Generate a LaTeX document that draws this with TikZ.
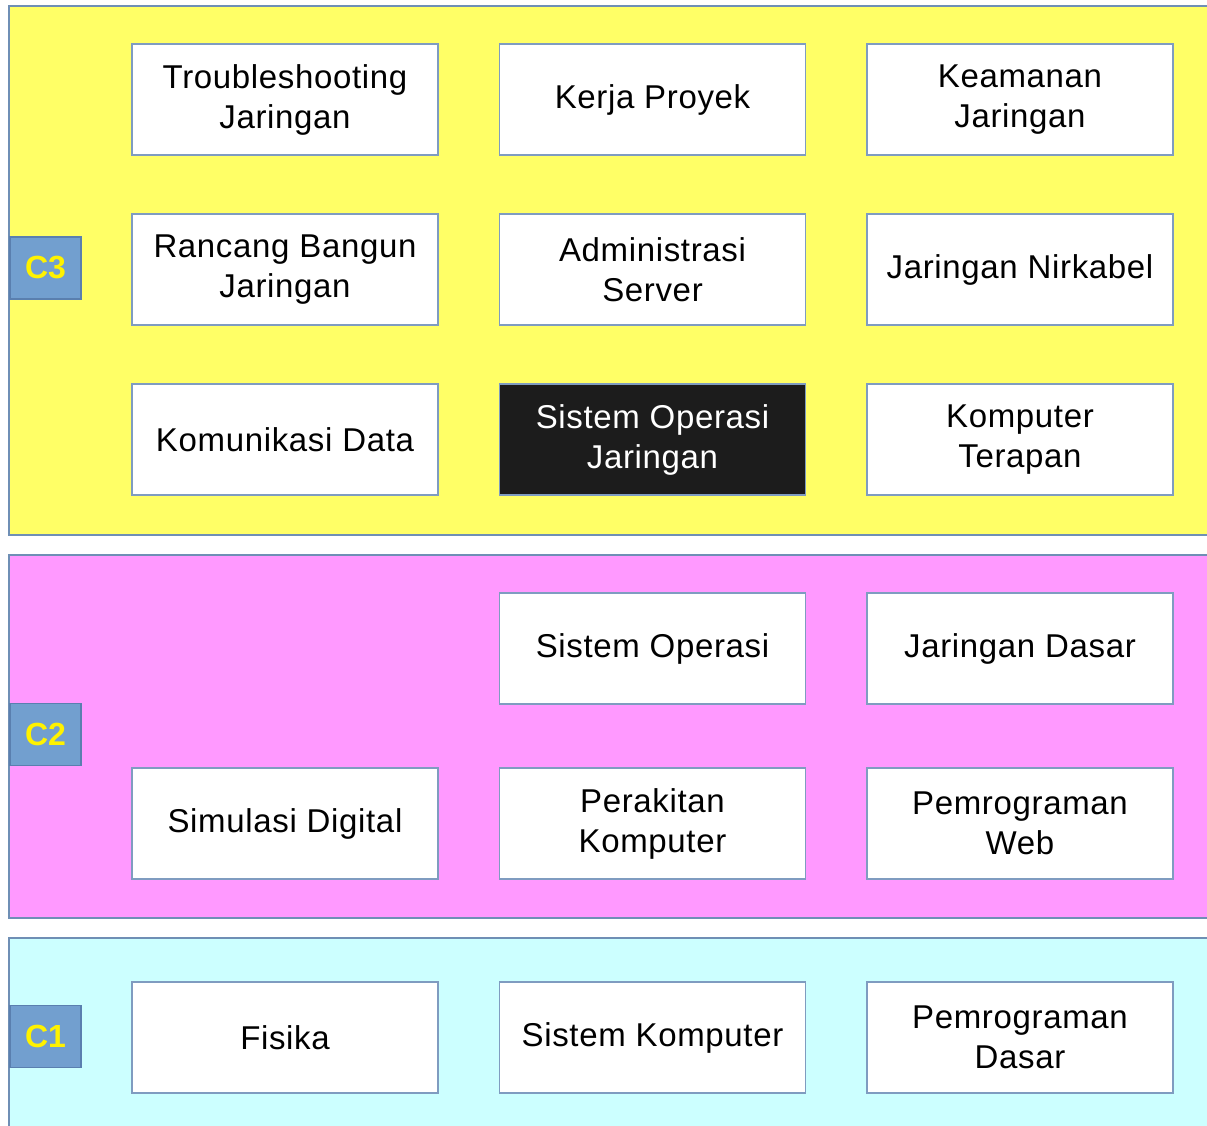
\documentclass[tikz,border=0pt]{standalone}
\usepackage{fontspec}
\setmainfont{Liberation Sans}
\newfontfamily\wideface[LetterSpace=2]{Liberation Sans}
\definecolor{bandY}{HTML}{FFFF66}
\definecolor{bandP}{HTML}{FF99FF}
\definecolor{bandC}{HTML}{CCFFFF}
\definecolor{bandline}{HTML}{6F8FB5}
\definecolor{boxline}{HTML}{7F9CC0}
\definecolor{lblfill}{HTML}{729FCF}
\definecolor{lblline}{HTML}{5A7FAF}
\definecolor{darkbox}{HTML}{1C1C1C}
\tikzset{
  band/.style={draw=bandline, line width=1.5pt},
  course/.style={draw=boxline, line width=1.8pt, fill=white, minimum width=306pt, minimum height=111pt,
    align=center, inner sep=0pt, font=\wideface\fontsize{33}{40}\selectfont, text=black},
  darkcourse/.style={course, fill=darkbox, text=white},
  lvl/.style={draw=lblline, line width=1.5pt, fill=lblfill, minimum width=71pt, minimum height=62pt,
    inner sep=0pt, text=yellow, font=\fontsize{32}{34}\selectfont\bfseries}
}
\begin{document}
\begin{tikzpicture}[x=1pt,y=-1pt]
\useasboundingbox (0,0) rectangle (1207,1125);
\clip (0,0) rectangle (1207,1125);
\fill[white] (0,0) rectangle (1207,1125);
% bands
\draw[band, fill=bandY] (9,6) rectangle (1230,535);
\draw[band, fill=bandP] (9,555) rectangle (1230,918);
\draw[band, fill=bandC] (9,938) rectangle (1230,1150);
% level labels
\node[lvl] (c3) at (45.5,268) {C3};
\node[lvl] (c2) at (45.5,734.5) {C2};
\node[lvl] (c1) at (45.5,1036.5) {C1};
% C3 courses
\node[course] (tj) at (285,99.5) {Troubleshooting\\Jaringan};
\node[course] (kp) at (652.5,99.5) {Kerja Proyek};
\node[course] (kj) at (1020,99.5) {Keamanan\\Jaringan};
\node[course] (rb) at (285,269.5) {Rancang Bangun\\Jaringan};
\node[course] (as) at (652.5,269.5) {Administrasi\\Server};
\node[course] (jn) at (1020,269.5) {Jaringan Nirkabel};
\node[course] (kd) at (285,439.5) {Komunikasi Data};
\node[darkcourse] (soj) at (652.5,439.5) {Sistem Operasi\\Jaringan};
\node[course] (kt) at (1020,439.5) {Komputer\\Terapan};
% C2 courses
\node[course] (so) at (652.5,648.5) {Sistem Operasi};
\node[course] (jd) at (1020,648.5) {Jaringan Dasar};
\node[course] (sd) at (285,823.5) {Simulasi Digital};
\node[course] (pk) at (652.5,823.5) {Perakitan\\Komputer};
\node[course] (pw) at (1020,823.5) {Pemrograman\\Web};
% C1 courses
\node[course] (fi) at (285,1037.5) {Fisika};
\node[course] (sk) at (652.5,1037.5) {Sistem Komputer};
\node[course] (pd) at (1020,1037.5) {Pemrograman\\Dasar};
\end{tikzpicture}
\end{document}
